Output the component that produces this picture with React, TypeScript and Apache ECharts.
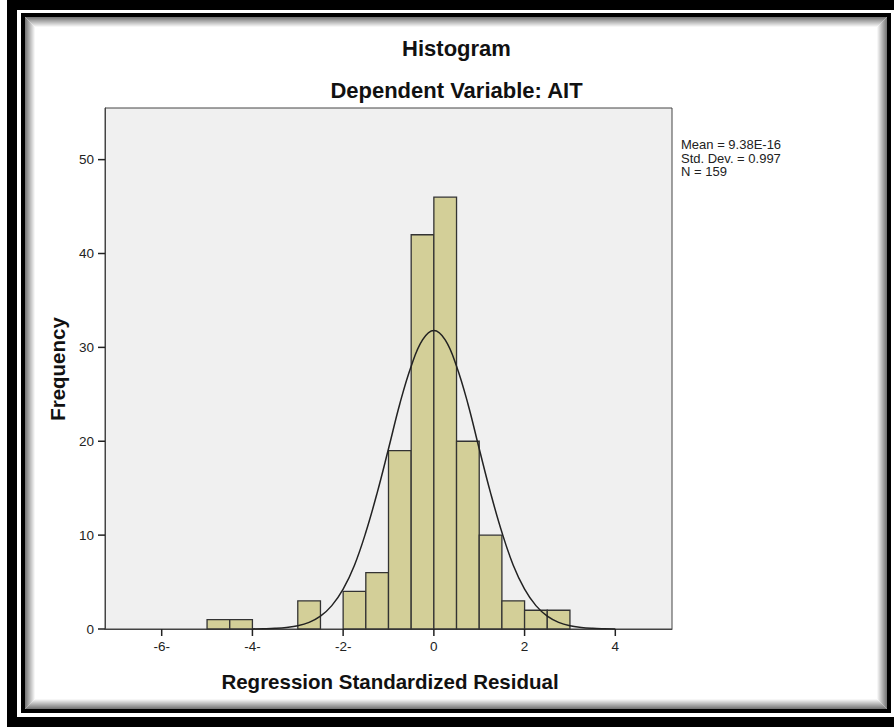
import React, { useEffect, useRef } from "react";
import * as echarts from "echarts";

const binLower = [-5, -4.5, -3, -2, -1.5, -1, -0.5, 0, 0.5, 1, 1.5, 2, 2.5];
const binUpper = [-4.5, -4, -2.5, -1.5, -1, -0.5, 0, 0.5, 1, 1.5, 2, 2.5, 3];
const frequency = [1, 1, 3, 4, 6, 19, 42, 46, 20, 10, 3, 2, 2];

const curveX = [
  -4, -3.75, -3.5, -3.25, -3, -2.75, -2.5, -2.25, -2, -1.75, -1.5, -1.25, -1, -0.75, -0.5, -0.25,
  0, 0.25, 0.5, 0.75, 1, 1.25, 1.5, 1.75, 2, 2.25, 2.5, 2.75, 3, 3.25, 3.5, 3.75, 4,
];
const curveY = [
  0.01, 0.03, 0.07, 0.16, 0.34, 0.71, 1.37, 2.49, 4.25, 6.8, 10.3, 14.5, 19.2, 24.0, 28.0, 30.8,
  31.8, 30.8, 28.0, 24.0, 19.2, 14.5, 10.3, 6.8, 4.25, 2.49, 1.37, 0.71, 0.34, 0.16, 0.07, 0.03, 0.01,
];

const xTickValues = [-6, -4, -2, 0, 2, 4];
const xTickLabels = ["-6-", "-4-", "-2-", "0", "2", "4"];
const yTickValues = [0, 10, 20, 30, 40, 50];

const titleText = "Histogram";
const subtitleText = "Dependent Variable: AIT";
const xAxisTitle = "Regression Standardized Residual";
const yAxisTitle = "Frequency";
const statsLines = ["Mean = 9.38E-16", "Std. Dev. = 0.997", "N = 159"];

const FONT = "'Liberation Sans', Arial, sans-serif";
const X_MIN = -7.25;
const Y_MIN = 0;

export default function App() {
  const ref = useRef<HTMLDivElement>(null);

  useEffect(() => {
    if (!ref.current) return;
    const chart = echarts.init(ref.current, null, { renderer: "svg" });

    const shadowRects: any[] = [];
    for (let i = 0; i < 10; i++) {
      const g = Math.round(120 + i * 14);
      shadowRects.push({
        type: "rect",
        silent: true,
        z: 1,
        shape: { x: 25.5 + i, y: 17.5 + i, width: 861 - 2 * i, height: 691 - 2 * i },
        style: { fill: "none", stroke: `rgb(${g},${g},${g})`, lineWidth: 1 },
      });
    }

    const statsTexts = statsLines.map((line, i) => ({
      type: "text",
      x: 681,
      y: 138 + i * 13.5,
      style: {
        text: line,
        font: `13px ${FONT}`,
        fill: "#222222",
        textAlign: "left",
        textVerticalAlign: "top",
      },
    }));

    chart.setOption({
      animation: false,
      backgroundColor: "#ffffff",
      grid: {
        left: 105,
        top: 108,
        width: 567,
        height: 521,
        show: true,
        backgroundColor: "#f0f0f0",
        borderColor: "#444444",
        borderWidth: 1,
      },
      xAxis: {
        type: "value",
        min: X_MIN,
        max: 5.25,
        splitLine: { show: false },
        axisLine: { show: true, onZero: false, lineStyle: { color: "#444444", width: 1 } },
        axisTick: { show: false },
        axisLabel: {
          customValues: xTickValues,
          formatter: (v: number) => {
            const idx = xTickValues.indexOf(v);
            return idx >= 0 ? xTickLabels[idx] : "";
          },
          color: "#222222",
          fontFamily: FONT,
          fontSize: 13.5,
          margin: 10,
        },
      },
      yAxis: {
        type: "value",
        min: Y_MIN,
        max: 55.5,
        splitLine: { show: false },
        axisLine: { show: true, onZero: false, lineStyle: { color: "#444444", width: 1 } },
        axisTick: { show: false },
        axisLabel: {
          customValues: yTickValues,
          color: "#222222",
          fontFamily: FONT,
          fontSize: 13.5,
          margin: 11,
        },
      },
      series: [
        {
          type: "custom",
          z: 6,
          renderItem: (params: any, api: any) => {
            const lo = api.value(0);
            const hi = api.value(1);
            const f = api.value(2);
            const p0 = api.coord([lo, f]);
            const p1 = api.coord([hi, 0]);
            return {
              type: "rect",
              shape: { x: p0[0], y: p0[1], width: p1[0] - p0[0], height: p1[1] - p0[1] },
              style: { fill: "#d3cf98", stroke: "#333333", lineWidth: 1.3 },
            };
          },
          encode: { x: [0, 1], y: 2 },
          data: binLower.map((lo, i) => [lo, binUpper[i], frequency[i]]),
        },
        {
          type: "line",
          z: 7,
          smooth: 0.4,
          symbol: "none",
          lineStyle: { color: "#222222", width: 1.5 },
          data: curveX.map((x, i) => [x, curveY[i]]),
        },
        {
          // x-axis tick marks, placed through the axis scale
          type: "custom",
          z: 8,
          clip: false,
          silent: true,
          renderItem: (params: any, api: any) => {
            const p = api.coord([api.value(0), Y_MIN]);
            return {
              type: "line",
              shape: { x1: p[0], y1: p[1], x2: p[0], y2: p[1] + 7 },
              style: { stroke: "#222222", lineWidth: 1.5 },
            };
          },
          encode: { x: 0, y: 1 },
          data: xTickValues.map((v) => [v, Y_MIN]),
        },
        {
          // y-axis tick marks, placed through the axis scale
          type: "custom",
          z: 8,
          clip: false,
          silent: true,
          renderItem: (params: any, api: any) => {
            const p = api.coord([X_MIN, api.value(1)]);
            return {
              type: "line",
              shape: { x1: p[0] - 7, y1: p[1], x2: p[0], y2: p[1] },
              style: { stroke: "#222222", lineWidth: 1.5 },
            };
          },
          encode: { x: 0, y: 1 },
          data: yTickValues.map((v) => [X_MIN, v]),
        },
      ],
      graphic: [
        {
          type: "rect",
          silent: true,
          z: 1,
          shape: { x: 12, y: 5, width: 894, height: 717 },
          style: { fill: "none", stroke: "#000000", lineWidth: 10 },
        },
        {
          type: "rect",
          silent: true,
          z: 1,
          shape: { x: 23, y: 15, width: 866, height: 696 },
          style: { fill: "none", stroke: "#000000", lineWidth: 4 },
        },
        ...shadowRects,
        {
          type: "text",
          x: 456.5,
          y: 48,
          style: {
            text: titleText,
            font: `bold 22px ${FONT}`,
            fill: "#111111",
            textAlign: "center",
            textVerticalAlign: "middle",
          },
        },
        {
          type: "text",
          x: 456.5,
          y: 90,
          style: {
            text: subtitleText,
            font: `bold 22px ${FONT}`,
            fill: "#111111",
            textAlign: "center",
            textVerticalAlign: "middle",
          },
        },
        {
          type: "text",
          x: 390,
          y: 681,
          style: {
            text: xAxisTitle,
            font: `bold 20.5px ${FONT}`,
            fill: "#111111",
            textAlign: "center",
            textVerticalAlign: "middle",
          },
        },
        {
          type: "text",
          x: 57,
          y: 369,
          rotation: Math.PI / 2,
          style: {
            text: yAxisTitle,
            font: `bold 20.5px ${FONT}`,
            fill: "#111111",
            textAlign: "center",
            textVerticalAlign: "middle",
          },
        },
        ...statsTexts,
      ],
    });

    return () => chart.dispose();
  }, []);

  return (
    <div
      ref={ref}
      style={{ position: "absolute", left: 0, top: 0, width: 894, height: 727 }}
    />
  );
}
